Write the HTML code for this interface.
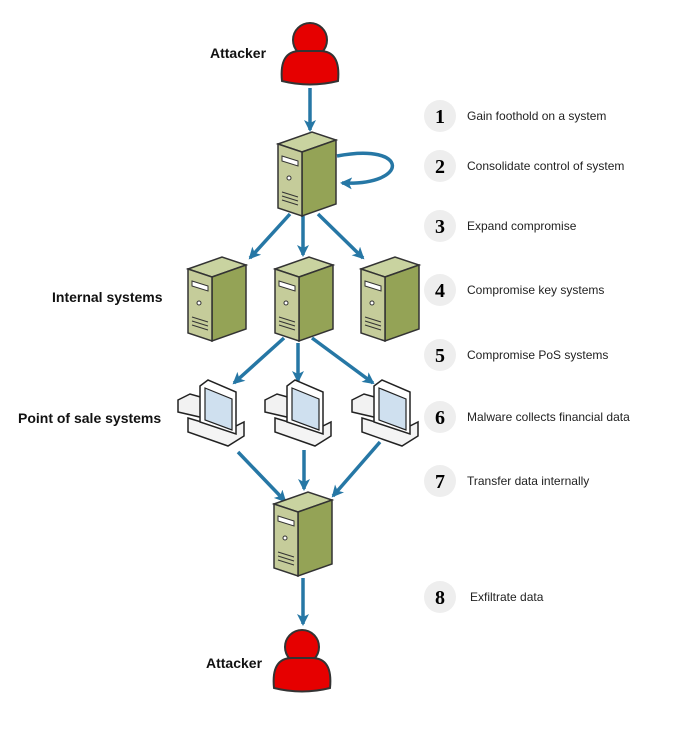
<!DOCTYPE html>
<html><head><style>body{margin:0;background:#fff}svg{display:block}</style></head><body>
<svg width="677" height="729" viewBox="0 0 677 729" xmlns="http://www.w3.org/2000/svg" font-family="Liberation Sans, sans-serif">
<defs>
<marker id="ah" markerWidth="13" markerHeight="12" refX="10" refY="6" orient="auto" markerUnits="userSpaceOnUse"><path d="M0,0 L12,6 L0,12 L3,6 z" fill="#2677a5"/></marker>
<g id="srv">
<path d="M0,12 L34,0 L58,8 L24,20 Z" fill="#c9d3a0" stroke="#333" stroke-width="1.5"/>
<path d="M24,20 L58,8 L58,72 L24,84 Z" fill="#94a356" stroke="#333" stroke-width="1.5"/>
<path d="M0,12 L24,20 L24,84 L0,76 Z" fill="#c5cc9a" stroke="#333" stroke-width="1.5"/>
<path d="M4,24 L20,29 L20,34 L4,29 Z" fill="#fff" stroke="#333" stroke-width="1"/>
<circle cx="11" cy="46" r="2" fill="#fff" stroke="#333"/>
<path d="M4,60 L20,65 M4,64 L20,69 M4,68 L20,73" stroke="#333" stroke-width="1"/>
</g>
<g id="person">
<circle cx="0" cy="-15" r="17" fill="#e60000" stroke="#333" stroke-width="2"/>
<path d="M-28,26 Q-31,-4 -10,-4 L10,-4 Q31,-4 28,26 Q0,33 -28,26 Z" fill="#e60000" stroke="#333" stroke-width="2"/>
</g>
<g id="pos">
<path d="M0,22 L12,16 L26,20 L26,40 L0,34 Z" fill="#f2f2f2" stroke="#222" stroke-width="1.5"/>
<path d="M10,40 L50,52 L66,44 L66,58 L50,68 L10,54 Z" fill="#f4f4f4" stroke="#222" stroke-width="1.5"/>
<path d="M22,8 L30,2 L58,14 L58,56 L22,44 Z" fill="#fff" stroke="#222" stroke-width="1.5"/>
<path d="M27,10 L54,21 L54,52 L27,42 Z" fill="#cfe0ef" stroke="#222" stroke-width="1.2"/>
</g>
</defs>
<g stroke="#2677a5" stroke-width="3.5" fill="none" marker-end="url(#ah)">
<line x1="310" y1="88" x2="310" y2="130"/>
<path d="M337,156 C410,142 410,186 342,183"/>
<line x1="290" y1="214" x2="250" y2="258"/>
<line x1="303" y1="216" x2="303" y2="255"/>
<line x1="318" y1="214" x2="363" y2="258"/>
<line x1="284" y1="338" x2="234" y2="383"/>
<line x1="298" y1="343" x2="298" y2="381"/>
<line x1="312" y1="338" x2="373" y2="383"/>
<line x1="238" y1="452" x2="285" y2="501"/>
<line x1="304" y1="450" x2="304" y2="489"/>
<line x1="380" y1="442" x2="333" y2="496"/>
<line x1="303" y1="578" x2="303" y2="624"/>
</g>
<use href="#person" x="310" y="55"/>
<use href="#person" x="302" y="662"/>
<use href="#srv" x="278" y="132"/>
<use href="#srv" x="188" y="257"/>
<use href="#srv" x="275" y="257"/>
<use href="#srv" x="361" y="257"/>
<use href="#srv" x="274" y="492"/>
<use href="#pos" x="178" y="378"/>
<use href="#pos" x="265" y="378"/>
<use href="#pos" x="352" y="378"/>
<g font-size="14" font-weight="bold" fill="#111">
<text x="210" y="58">Attacker</text>
<text x="52" y="302">Internal systems</text>
<text x="18" y="423">Point of sale systems</text>
<text x="206" y="668">Attacker</text>
</g>
<g font-size="12" fill="#222">
<g fill="#eee"><circle cx="440" cy="116" r="16"/><circle cx="440" cy="166" r="16"/><circle cx="440" cy="226" r="16"/><circle cx="440" cy="290" r="16"/><circle cx="440" cy="355" r="16"/><circle cx="440" cy="417" r="16"/><circle cx="440" cy="481" r="16"/><circle cx="440" cy="597" r="16"/></g>
<g font-family="Liberation Serif, serif" font-weight="bold" font-size="20" text-anchor="middle" fill="#000">
<text x="440" y="123">1</text><text x="440" y="173">2</text><text x="440" y="233">3</text><text x="440" y="297">4</text><text x="440" y="362">5</text><text x="440" y="424">6</text><text x="440" y="488">7</text><text x="440" y="604">8</text></g>
<text x="467" y="120">Gain foothold on a system</text>
<text x="467" y="170">Consolidate control of system</text>
<text x="467" y="230">Expand compromise</text>
<text x="467" y="294">Compromise key systems</text>
<text x="467" y="359">Compromise PoS systems</text>
<text x="467" y="421">Malware collects financial data</text>
<text x="467" y="485">Transfer data internally</text>
<text x="470" y="601">Exfiltrate data</text>
</g>
</svg>
</body></html>
